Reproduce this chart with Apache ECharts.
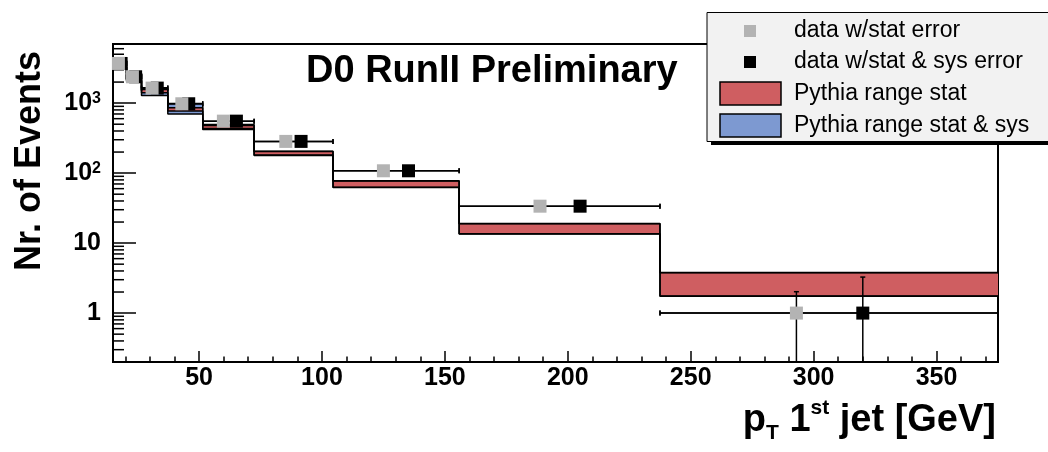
<!DOCTYPE html>
<html>
<head>
<meta charset="utf-8">
<title>pT 1st jet - D0 RunII Preliminary</title>
<script src="https://cdn.jsdelivr.net/npm/echarts@6/dist/echarts.min.js"></script>
<style>
  html, body { margin: 0; padding: 0; background: #fff; }
  #chart { width: 1048px; height: 452px; }
</style>
</head>
<body>
<div id="chart"></div>
<script>
// bin edges [GeV]
const binEdges = [15, 20.5, 26.6, 37.3, 51.5, 72.4, 104.5, 155.8, 237.5, 375];
// Pythia range, stat only (red)
const statLow = [3350, 2150, 1410, 770, 435, 181, 63, 13.6, 1.75];
const statHigh = [4000, 2600, 1570, 860, 480, 203, 77, 18.9, 3.78];
// Pythia range, stat & sys (blue)
const sysLow = [3250, 2050, 1290, 700, 421, 179, 62.5, 13.5, 1.74];
const sysHigh = [4100, 2700, 1660, 990, 497, 206, 77.5, 19, 3.8];
// data points
const dataY = [3690, 2380, 1640, 980, 553, 284, 108, 33.7, 1.0];
const grayX = [17.2, 22.9, 30.9, 43.0, 59.9, 85.3, 125, 188.7, 293];
const blackX = [18.3, 24.2, 33.0, 45.8, 65.2, 91.5, 135.2, 205, 320];
// vertical errors (stat / stat+sys)
const statErrLow = [3630, 2330, 1600, 950, 530, 268, 98, 28, 0.2];
const statErrHigh = [3750, 2430, 1680, 1010, 575, 300, 118, 40, 2.02];
const totErrLow = [3480, 2240, 1540, 910, 505, 258, 94, 28, 0.2];
const totErrHigh = [3900, 2520, 1740, 1050, 600, 310, 122, 40, 3.27];
// y minor ticks (log axis)
const yMinorTicks = [0.3, 0.4, 0.5, 0.6, 0.7, 0.8, 0.9,
  2, 3, 4, 5, 6, 7, 8, 9, 20, 30, 40, 50, 60, 70, 80, 90,
  200, 300, 400, 500, 600, 700, 800, 900, 2000, 3000, 4000, 5000, 6000, 7000];

const FONT = '"Liberation Sans", Arial, Helvetica, sans-serif';
const RED = '#cf5e61';
const BLUE = '#7d99d1';
const GRAY = '#b3b3b3';

function bandData(lo, hi) {
  return lo.map((v, i) => [binEdges[i], binEdges[i + 1], v, hi[i]]);
}

function stepLine(values) {
  const pts = [];
  values.forEach((v, i) => {
    pts.push([binEdges[i], v], [binEdges[i + 1], v]);
  });
  return pts;
}

function errData(xs, lo, hi) {
  return xs.map((x, i) => [x, dataY[i], binEdges[i], binEdges[i + 1], lo[i], hi[i]]);
}

function renderBand(params, api) {
  const p0 = api.coord([api.value(0), api.value(3)]);
  const p1 = api.coord([api.value(1), api.value(2)]);
  return {
    type: 'rect',
    shape: { x: p0[0], y: p0[1], width: p1[0] - p0[0], height: p1[1] - p0[1] },
    style: { fill: api.visual('color') }
  };
}

function renderErr(params, api) {
  const x = api.value(0), y = api.value(1);
  const p = api.coord([x, y]);
  const l = api.coord([api.value(2), y]);
  const r = api.coord([api.value(3), y]);
  const lo = api.coord([x, api.value(4)]);
  const hi = api.coord([x, api.value(5)]);
  const st = { stroke: '#000', lineWidth: 1.5 };
  const c = 2.5;
  return {
    type: 'group',
    children: [
      { type: 'line', shape: { x1: l[0], y1: p[1], x2: r[0], y2: p[1] }, style: st },
      { type: 'line', shape: { x1: l[0], y1: p[1] - c, x2: l[0], y2: p[1] + c }, style: st },
      { type: 'line', shape: { x1: r[0], y1: p[1] - c, x2: r[0], y2: p[1] + c }, style: st },
      { type: 'line', shape: { x1: p[0], y1: lo[1], x2: p[0], y2: hi[1] }, style: st },
      { type: 'line', shape: { x1: p[0] - c, y1: hi[1], x2: p[0] + c, y2: hi[1] }, style: st }
    ]
  };
}

function renderMinorTick(params, api) {
  const p = api.coord([api.value(0), api.value(1)]);
  return {
    type: 'line',
    shape: { x1: p[0], y1: p[1], x2: p[0] + 11, y2: p[1] },
    style: { stroke: '#000', lineWidth: 1.5 }
  };
}

const stepStyle = { color: '#000', width: 1.5 };

const chart = echarts.init(document.getElementById('chart'));
chart.setOption({
  animation: false,
  backgroundColor: '#fff',
  grid: {
    left: 113, right: 50, top: 44, bottom: 90,
    show: true, borderColor: '#000', borderWidth: 2, backgroundColor: '#fff'
  },
  xAxis: {
    type: 'value', min: 15, max: 375, splitNumber: 7,
    axisLine: { lineStyle: { color: '#000', width: 2 } },
    axisTick: { inside: true, length: 11, lineStyle: { color: '#000', width: 1.5 } },
    minorTick: { show: true, splitNumber: 5, length: 5.5, lineStyle: { color: '#000', width: 1.5 } },
    splitLine: { show: false },
    axisLabel: {
      showMinLabel: false, showMaxLabel: false,
      color: '#000', fontFamily: FONT, fontWeight: 'bold', fontSize: 25, margin: 4
    }
  },
  yAxis: {
    type: 'log', logBase: 10, min: 0.2, max: 7000,
    axisLine: { lineStyle: { color: '#000', width: 2 } },
    axisTick: { inside: true, length: 23, lineStyle: { color: '#000', width: 1.5 } },
    minorTick: { show: false },
    splitLine: { show: false },
    axisLabel: {
      showMinLabel: false, showMaxLabel: false,
      color: '#000', fontFamily: FONT, fontWeight: 'bold', fontSize: 25, margin: 12,
      formatter: function (v) {
        if (Math.abs(v - 1) < 1e-6) return '1';
        if (Math.abs(v - 10) < 1e-6) return '10';
        if (Math.abs(v - 100) < 1e-4) return '10{sup|2}';
        if (Math.abs(v - 1000) < 1e-3) return '10{sup|3}';
        return '';
      },
      rich: {
        sup: { fontSize: 16, fontWeight: 'bold', fontFamily: FONT, color: '#000', verticalAlign: 'top', lineHeight: 16 }
      }
    }
  },
  series: [
    {
      name: 'Pythia range stat & sys', type: 'custom', renderItem: renderBand,
      itemStyle: { color: BLUE }, data: bandData(sysLow, sysHigh), z: 1, silent: true
    },
    {
      name: 'Pythia range stat', type: 'custom', renderItem: renderBand,
      itemStyle: { color: RED }, data: bandData(statLow, statHigh), z: 2, silent: true
    },
    { type: 'line', data: stepLine(sysHigh), showSymbol: false, lineStyle: stepStyle, z: 3, silent: true },
    { type: 'line', data: stepLine(sysLow), showSymbol: false, lineStyle: stepStyle, z: 3, silent: true },
    { type: 'line', data: stepLine(statHigh), showSymbol: false, lineStyle: stepStyle, z: 3, silent: true },
    { type: 'line', data: stepLine(statLow), showSymbol: false, lineStyle: stepStyle, z: 3, silent: true },
    {
      type: 'custom', renderItem: renderMinorTick, silent: true, z: 3,
      data: yMinorTicks.map(v => [15, v])
    },
    { type: 'custom', renderItem: renderErr, data: errData(blackX, totErrLow, totErrHigh), z: 4, silent: true },
    { type: 'custom', renderItem: renderErr, data: errData(grayX, statErrLow, statErrHigh), z: 4, silent: true },
    {
      name: 'data w/stat & sys error', type: 'scatter', symbol: 'rect', symbolSize: 13,
      itemStyle: { color: '#000', opacity: 1 }, data: blackX.map((x, i) => [x, dataY[i]]), z: 5
    },
    {
      name: 'data w/stat error', type: 'scatter', symbol: 'rect', symbolSize: 13,
      itemStyle: { color: GRAY, opacity: 1 }, data: grayX.map((x, i) => [x, dataY[i]]), z: 6
    }
  ],
  graphic: [
    {
      type: 'text', x: 306, y: 72, z: 10,
      style: { text: 'D0 RunII Preliminary', font: 'bold 38px ' + FONT, fill: '#000', verticalAlign: 'middle' }
    },
    {
      type: 'text', x: 30, y: 161, rotation: Math.PI / 2, z: 10,
      style: { text: 'Nr. of Events', font: 'bold 36px ' + FONT, fill: '#000', align: 'center', verticalAlign: 'middle' }
    },
    {
      type: 'text', x: 996, y: 421, z: 10,
      style: {
        text: '{b|p}{sub|T}{b| 1}{sup|st}{b| jet [GeV]}',
        align: 'right', verticalAlign: 'middle',
        rich: {
          b: { font: 'bold 38px ' + FONT, fill: '#000', lineHeight: 46 },
          sub: { font: 'bold 21px ' + FONT, fill: '#000', lineHeight: 21, verticalAlign: 'bottom' },
          sup: { font: 'bold 21px ' + FONT, fill: '#000', lineHeight: 21, verticalAlign: 'top' }
        }
      }
    },
    // legend box
    {
      type: 'group', z: 20,
      children: [
        { type: 'rect', shape: { x: 711, y: 16, width: 400, height: 129 }, style: { fill: '#000' } },
        { type: 'rect', shape: { x: 707, y: 12.5, width: 400, height: 129 }, style: { fill: '#f2f2f2', stroke: '#000', lineWidth: 1 } },
        { type: 'rect', shape: { x: 744, y: 25, width: 12, height: 12 }, style: { fill: GRAY } },
        { type: 'rect', shape: { x: 744, y: 56, width: 12, height: 12 }, style: { fill: '#000' } },
        { type: 'rect', shape: { x: 720, y: 82, width: 61, height: 23 }, style: { fill: RED, stroke: '#000', lineWidth: 1.5 } },
        { type: 'rect', shape: { x: 720, y: 114, width: 61, height: 23 }, style: { fill: BLUE, stroke: '#000', lineWidth: 1.5 } },
        { type: 'text', x: 794, y: 31, style: { text: 'data w/stat error', font: '23px ' + FONT, fill: '#000', verticalAlign: 'middle' } },
        { type: 'text', x: 794, y: 62, style: { text: 'data w/stat & sys error', font: '23px ' + FONT, fill: '#000', verticalAlign: 'middle' } },
        { type: 'text', x: 794, y: 93.5, style: { text: 'Pythia range stat', font: '23px ' + FONT, fill: '#000', verticalAlign: 'middle' } },
        { type: 'text', x: 794, y: 125.5, style: { text: 'Pythia range stat & sys', font: '23px ' + FONT, fill: '#000', verticalAlign: 'middle' } }
      ]
    }
  ]
});
</script>
</body>
</html>
